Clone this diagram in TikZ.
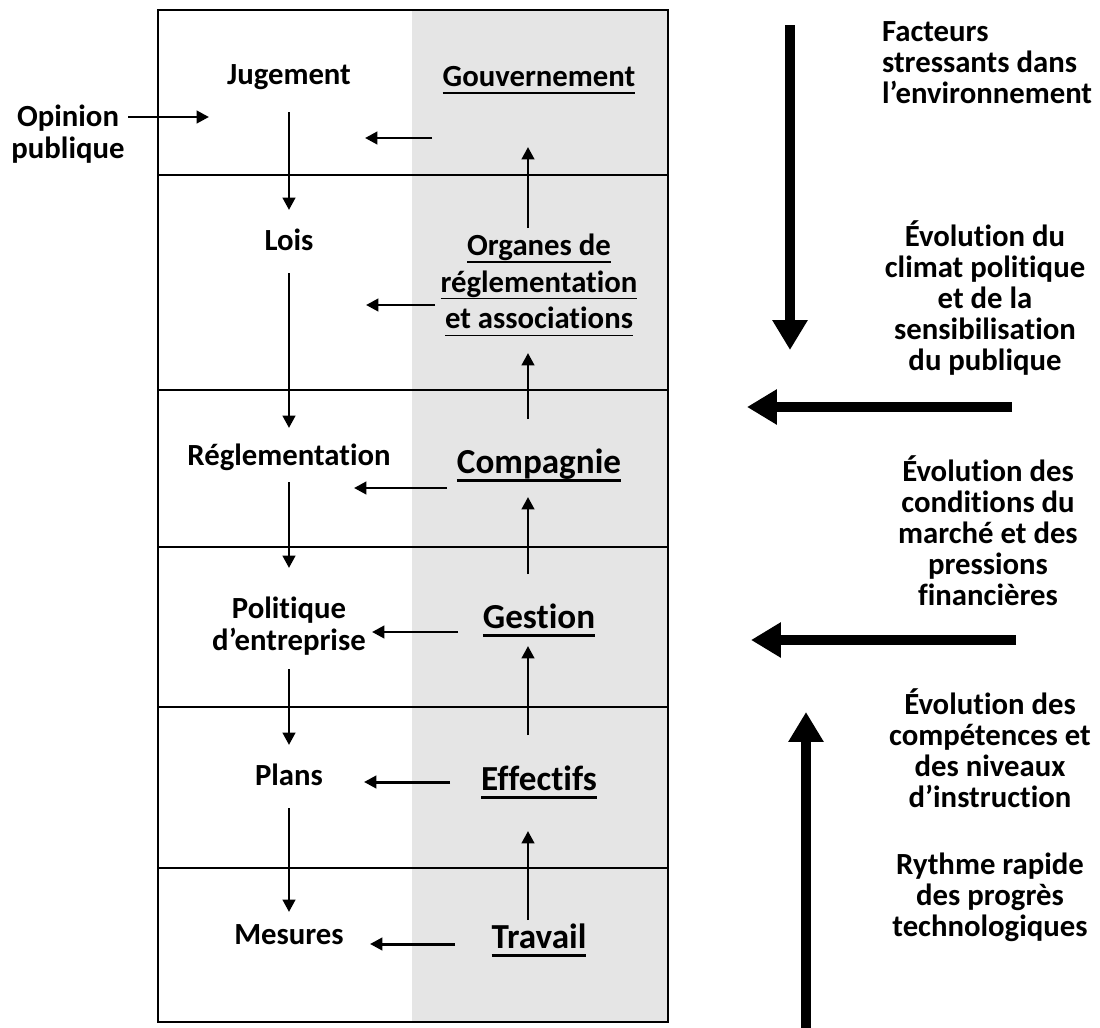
\documentclass[tikz,border=0pt]{standalone}
\usepackage{fontspec}
\setmainfont{Carlito}[RawFeature=-liga]
\usepackage{tikz}
\usetikzlibrary{arrows.meta}
\usetikzlibrary{calc}
\definecolor{panel}{gray}{0.9}
\newcommand{\uln}[1]{\setbox0=\hbox{#1}\rlap{\rule[-0.24em]{\wd0}{0.06em}}\box0}
\tikzset{
  lbl/.style={font=\bfseries\fontsize{17.5}{18.2}\selectfont, align=center, inner sep=1pt},
  org/.style={font=\bfseries\fontsize{17.5}{21}\selectfont, align=center, inner sep=1pt},
  big lbl/.style={font=\bfseries\fontsize{20}{24}\selectfont, align=center, inner sep=1pt},
  side/.style={font=\bfseries\fontsize{17.5}{17.6}\selectfont, align=center, inner sep=1pt},
  flow/.style={-{Triangle[length=7pt,width=7pt]}, line width=1.7pt},
  push/.style={-{Triangle[length=17pt,width=19pt]}, line width=5.8pt}
}

\begin{document}
\begin{tikzpicture}[x=0.02cm,y=-0.02cm]
\useasboundingbox (0,0) rectangle (1100,1028);
\fill[panel] (412,10) rectangle (668,1022);
\draw[line width=1pt] (158,10) rectangle (668,1022);
\draw[line width=0.9pt] (158,175) -- (668,175);
\draw[line width=0.9pt] (158,390) -- (668,390);
\draw[line width=0.9pt] (158,547) -- (668,547);
\draw[line width=0.9pt] (158,707) -- (668,707);
\draw[line width=0.9pt] (158,868) -- (668,868);

% left column
\node[lbl] (jug) at (289,77) {Jugement};
\node[lbl] (lois) at (289,240) {Lois};
\node[lbl] (regl) at (289,457) {Réglementation};
\node[lbl] (pol) at (289,626) {Politique\\d’entreprise};
\node[lbl] (plans) at (289,775) {Plans};
\node[lbl] (mes) at (289,935) {Mesures};
\node[lbl] (opin) at (68,134) {Opinion\\publique};

% right column
\node[lbl] (gouv) at (539,80) {\uln{Gouvernement}};
\node[org] (orgs) at (539,285) {\uln{Organes de}\\\uln{réglementation}\\\uln{et associations}};
\node[big lbl] (comp) at (539,465) {\uln{Compagnie}};
\node[big lbl] (gest) at (539,620) {\uln{Gestion}};
\node[big lbl] (eff) at (539,782) {\uln{Effectifs}};
\node[big lbl] (trav) at (539,940) {\uln{Travail}};

% downward chain
\draw[flow] ($(jug)+(0,35)$) -- ($(lois)+(0,-30)$);
\draw[flow] ($(lois)+(0,33)$) -- ($(regl)+(0,-29)$);
\draw[flow] ($(regl)+(0,25)$) -- ($(pol)+(0,-58)$);
\draw[flow] ($(pol)+(0,43)$) -- ($(plans)+(0,-30)$);
\draw[flow] ($(plans)+(0,33)$) -- ($(mes)+(0,-23)$);

% upward chain
\draw[flow] ($(orgs)+(-11,-57)$) -- ($(gouv)+(-11,67)$);
\draw[flow] ($(comp)+(-11,-46)$) -- ($(orgs)+(-11,68)$);
\draw[flow] ($(gest)+(-11,-46)$) -- ($(comp)+(-11,32)$);
\draw[flow] ($(eff)+(-11,-47)$) -- ($(gest)+(-11,26)$);
\draw[flow] ($(trav)+(-11,-20)$) -- ($(eff)+(-11,49)$);

% across
\draw[flow] ($(opin)+(60,-17)$) -- ($(jug)+(-80,40)$);
\draw[flow] ($(gouv)+(-107,58)$) -- ($(jug)+(76,61)$);
\draw[flow] ($(orgs)+(-104,20)$) -- ($(lois)+(77,65)$);
\draw[flow] ($(comp)+(-92,23)$) -- ($(regl)+(65,31)$);
\draw[flow] ($(gest)+(-81,12)$) -- ($(pol)+(83,6)$);
\draw[flow] ($(eff)+(-89,0)$) -- ($(plans)+(75,7)$);
\draw[flow] ($(trav)+(-84,4)$) -- ($(mes)+(81,9)$);

% environment
\node[side, anchor=west, align=left] (fact) at (880,63) {Facteurs\\stressants dans\\l’environnement};
\node[side] (clim) at (985,298) {Évolution du\\climat politique\\et de la\\sensibilisation\\du publique};
\node[side] (marche) at (988,531) {Évolution des\\conditions du\\marché et des\\pressions\\financières};
\node[side] (compet) at (990,748) {Évolution des\\compétences et\\des niveaux\\d’instruction};
\node[side] (techno) at (990,897) {Rythme rapide\\des progrès\\technologiques};

\coordinate (d1) at (790,25);
\coordinate (d2) at (790,350);
\coordinate (l1) at (1012,407);
\coordinate (l2) at (747,407);
\coordinate (m1) at (1016,640);
\coordinate (m2) at (751,640);
\coordinate (u1) at (806,1030);
\coordinate (u2) at (806,712);
\draw[push] (d1) -- (d2);
\draw[push] (l1) -- (l2);
\draw[push] (m1) -- (m2);
\draw[push] (u1) -- (u2);
\end{tikzpicture}
\end{document}
